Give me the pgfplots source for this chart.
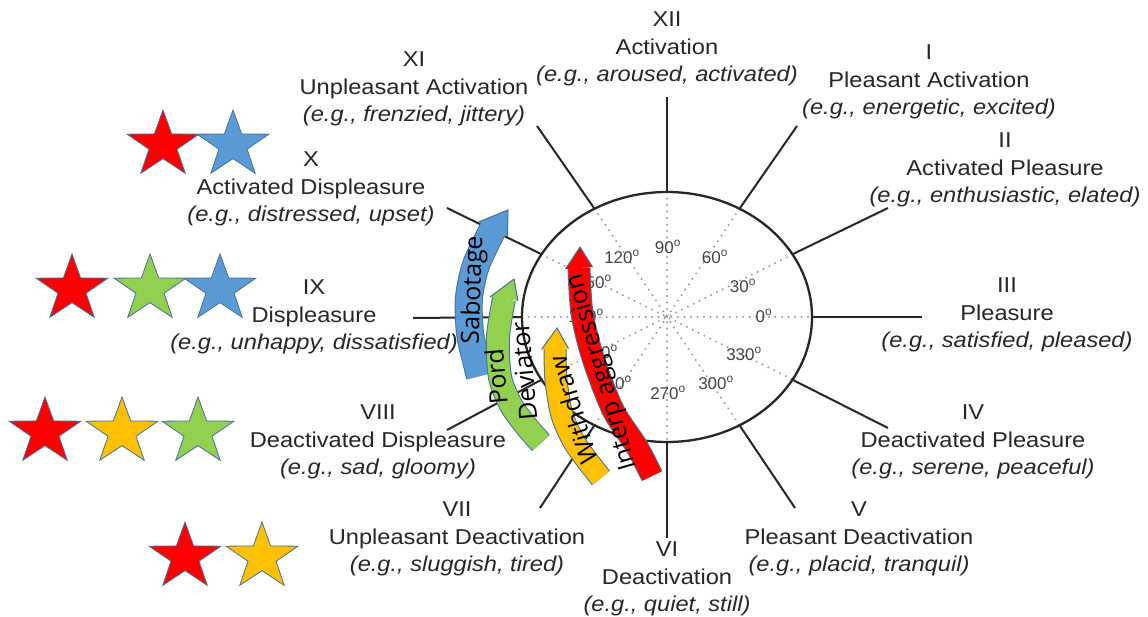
\documentclass[border=0pt]{standalone}
\usepackage{pgfplots}
\pgfplotsset{compat=1.18}
\usepackage{fontspec}
\setmainfont{Liberation Sans}
\newfontfamily\arcfont{Open Sans}
\definecolor{txt}{HTML}{262626}
\definecolor{sred}{HTML}{FF0000}
\definecolor{sblue}{HTML}{5B9BD5}
\definecolor{sgreen}{HTML}{92D050}
\definecolor{syellow}{HTML}{FFC000}
\definecolor{edge}{HTML}{41719C}
\definecolor{dotc}{HTML}{9A9A9A}
\definecolor{degc}{HTML}{444444}
\tikzset{
  lab/.style={font=\fontsize{21.5}{27.5}\selectfont, align=center, text=txt, xscale=1.1, inner sep=0pt},
  deg/.style={font=\fontsize{17}{17}\selectfont, text=degc, inner sep=0pt},
  arc/.style={font=\arcfont\fontsize{25}{25}\selectfont, text=black, inner sep=0pt},
  spoke/.style={draw=txt, line width=2pt},
  dots/.style={draw=dotc, line width=2.2pt, dash pattern=on 0pt off 6.5pt, line cap=round},
}
\pgfdeclareplotmark{fstar}{%
  \pgfpathmoveto{\pgfpointpolar{90}{\pgfplotmarksize}}%
  \pgfpathlineto{\pgfpointpolar{126}{0.39*\pgfplotmarksize}}%
  \pgfpathlineto{\pgfpointpolar{162}{\pgfplotmarksize}}%
  \pgfpathlineto{\pgfpointpolar{198}{0.39*\pgfplotmarksize}}%
  \pgfpathlineto{\pgfpointpolar{234}{\pgfplotmarksize}}%
  \pgfpathlineto{\pgfpointpolar{270}{0.39*\pgfplotmarksize}}%
  \pgfpathlineto{\pgfpointpolar{306}{\pgfplotmarksize}}%
  \pgfpathlineto{\pgfpointpolar{342}{0.39*\pgfplotmarksize}}%
  \pgfpathlineto{\pgfpointpolar{18}{\pgfplotmarksize}}%
  \pgfpathlineto{\pgfpointpolar{54}{0.39*\pgfplotmarksize}}%
  \pgfpathclose
  \pgfusepathqfillstroke
}
\begin{document}
\begin{tikzpicture}
\begin{axis}[
  width=1148pt, height=617pt, scale only axis,
  xmin=0, xmax=1148, ymin=0, ymax=617, y dir=reverse,
  hide axis, clip=false,
]
% stars
\addplot[only marks, mark=fstar, mark size=35, mark options={fill=sred, draw=edge, line width=0.8pt, xscale=1.08}]
  coordinates {(163,145) (72,289) (45,432) (185,557)};
\addplot[only marks, mark=fstar, mark size=35, mark options={fill=sblue, draw=edge, line width=0.8pt, xscale=1.08}]
  coordinates {(233,145) (220,289)};
\addplot[only marks, mark=fstar, mark size=35, mark options={fill=sgreen, draw=edge, line width=0.8pt, xscale=1.08}]
  coordinates {(150,289) (198,432)};
\addplot[only marks, mark=fstar, mark size=35, mark options={fill=syellow, draw=edge, line width=0.8pt, xscale=1.08}]
  coordinates {(122,432) (262,557)};
% inner dotted diameters
\addplot[dots, no markers] coordinates {(522,317) (812,317)};
\addplot[dots, no markers] coordinates {(792.6,254.5) (541.4,379.5)};
\addplot[dots, no markers] coordinates {(739.5,208.7) (594.5,425.3)};
\addplot[dots, no markers] coordinates {(667,192) (667,442)};
\addplot[dots, no markers] coordinates {(594.5,208.7) (739.5,425.3)};
\addplot[dots, no markers] coordinates {(541.4,254.5) (792.6,379.5)};
% ellipse
\draw[txt, line width=2.3pt] (axis cs:667,317) ellipse [x radius=145pt, y radius=125pt];
% spokes
\addplot[spoke, no markers] coordinates {(667,193) (667,97)};
\addplot[spoke, no markers] coordinates {(740,208) (797,126)};
\addplot[spoke, no markers] coordinates {(793,254) (888,208)};
\addplot[spoke, no markers] coordinates {(812,317) (922,317)};
\addplot[spoke, no markers] coordinates {(793,380) (888,428)};
\addplot[spoke, no markers] coordinates {(740,426) (795,508)};
\addplot[spoke, no markers] coordinates {(667,442) (667,538)};
\addplot[spoke, no markers] coordinates {(594,426) (540,508)};
\addplot[spoke, no markers] coordinates {(541,380) (447,430)};
\addplot[spoke, no markers] coordinates {(522,317) (413,318)};
\addplot[spoke, no markers] coordinates {(541,254) (447,208)};
\addplot[spoke, no markers] coordinates {(594,208) (537,126)};
% degree labels
\node[deg] at (axis cs:668,247) {90\textsuperscript{o}};
\node[deg] at (axis cs:715,257) {60\textsuperscript{o}};
\node[deg] at (axis cs:743,286) {30\textsuperscript{o}};
\node[deg] at (axis cs:764,316) {0\textsuperscript{o}};
\node[deg] at (axis cs:744,354) {330\textsuperscript{o}};
\node[deg] at (axis cs:716,383) {300\textsuperscript{o}};
\node[deg] at (axis cs:668,393) {270\textsuperscript{o}};
\node[deg] at (axis cs:614,383) {240\textsuperscript{o}};
\node[deg] at (axis cs:600,352) {210\textsuperscript{o}};
\node[deg] at (axis cs:586,316) {180\textsuperscript{o}};
\node[deg] at (axis cs:594,282) {150\textsuperscript{o}};
\node[deg] at (axis cs:622,257) {120\textsuperscript{o}};
% outer labels
\node[lab] at (axis cs:667,49) {XII\\Activation\\\textit{(e.g., aroused, activated)}};
\node[lab] at (axis cs:929,82) {I\\Pleasant Activation\\\textit{(e.g., energetic, excited)}};
\node[lab] at (axis cs:1005,170) {II\\Activated Pleasure\\\textit{(e.g., enthusiastic, elated)}};
\node[lab] at (axis cs:1007,315) {III\\Pleasure\\\textit{(e.g., satisfied, pleased)}};
\node[lab] at (axis cs:973,442) {IV\\Deactivated Pleasure\\\textit{(e.g., serene, peaceful)}};
\node[lab] at (axis cs:859,539) {V\\Pleasant Deactivation\\\textit{(e.g., placid, tranquil)}};
\node[lab] at (axis cs:667,579) {VI\\Deactivation\\\textit{(e.g., quiet, still)}};
\node[lab] at (axis cs:457,539) {VII\\Unpleasant Deactivation\\\textit{(e.g., sluggish, tired)}};
\node[lab] at (axis cs:378,442) {VIII\\Deactivated Displeasure\\\textit{(e.g., sad, gloomy)}};
\node[lab] at (axis cs:314,317) {IX\\Displeasure\\\textit{(e.g., unhappy, dissatisfied)}};
\node[lab] at (axis cs:311,189) {X\\Activated Displeasure\\\textit{(e.g., distressed, upset)}};
\node[lab] at (axis cs:414,89) {XI\\Unpleasant Activation\\\textit{(e.g., frenzied, jittery)}};
% blue band: Sabotage
\addplot[draw=edge, line width=28pt, smooth, no markers] coordinates {(493,229) (476,265) (469,298) (470,333) (476,360) (480,376)};
\addplot[draw=sblue, line width=26pt, smooth, no markers] coordinates {(493,229) (476,265) (469,298) (470,333) (476,360) (480,376)};
\addplot[fill=sblue, draw=none, no markers] coordinates {(478.5,222) (508,210) (507.5,236)};
\addplot[draw=edge, line width=1pt, no markers] coordinates {(478.5,222) (508,210) (507.5,236)};
% green band: Pord Deviator
\addplot[draw=edge, line width=24pt, smooth, no markers] coordinates {(504,299) (498,337) (500,377) (511,405) (527,427) (541,443)};
\addplot[draw=sgreen, line width=22pt, smooth, no markers] coordinates {(504,299) (498,337) (500,377) (511,405) (527,427) (541,443)};
\addplot[fill=sgreen, draw=none, no markers] coordinates {(490,297) (514,279) (518,301)};
\addplot[draw=edge, line width=1pt, no markers] coordinates {(490,297) (514,279) (518,301)};
% yellow band: Withdraw
\addplot[draw=edge, line width=23pt, smooth, no markers] coordinates {(555,349) (556,380) (562,415) (576,445) (601,478)};
\addplot[draw=syellow, line width=21pt, smooth, no markers] coordinates {(555,349) (556,380) (562,415) (576,445) (601,478)};
\addplot[fill=syellow, draw=none, no markers] coordinates {(541.5,349.5) (557,328) (568.5,348.5)};
\addplot[draw=edge, line width=1pt, no markers] coordinates {(541.5,349.5) (557,328) (568.5,348.5)};
% red band: Interp aggression
\addplot[draw=edge, line width=23pt, smooth, no markers] coordinates {(579,268) (582,313) (593,358) (613,410) (637,447) (652,476)};
\addplot[draw=sred, line width=21pt, smooth, no markers] coordinates {(579,268) (582,313) (593,358) (613,410) (637,447) (652,476)};
\addplot[fill=sred, draw=none, no markers] coordinates {(565.5,269) (580,247) (592.5,267)};
\addplot[draw=edge, line width=1pt, no markers] coordinates {(565.5,269) (580,247) (592.5,267)};
% band texts
\node[arc, rotate=88] at (axis cs:474,290) {Sabotage};
\node[arc, rotate=95] at (axis cs:496,377) {Pord};
\node[arc, rotate=95] at (axis cs:524,371) {Deviator};
\node[arc, rotate=107] at (axis cs:573,410) {Withdraw};
\node[arc, rotate=106] at (axis cs:603,372) {Interp aggression};
\end{axis}
\pgfresetboundingbox
\path[use as bounding box] (0,0) rectangle (1148pt,617pt);
\end{tikzpicture}
\end{document}
